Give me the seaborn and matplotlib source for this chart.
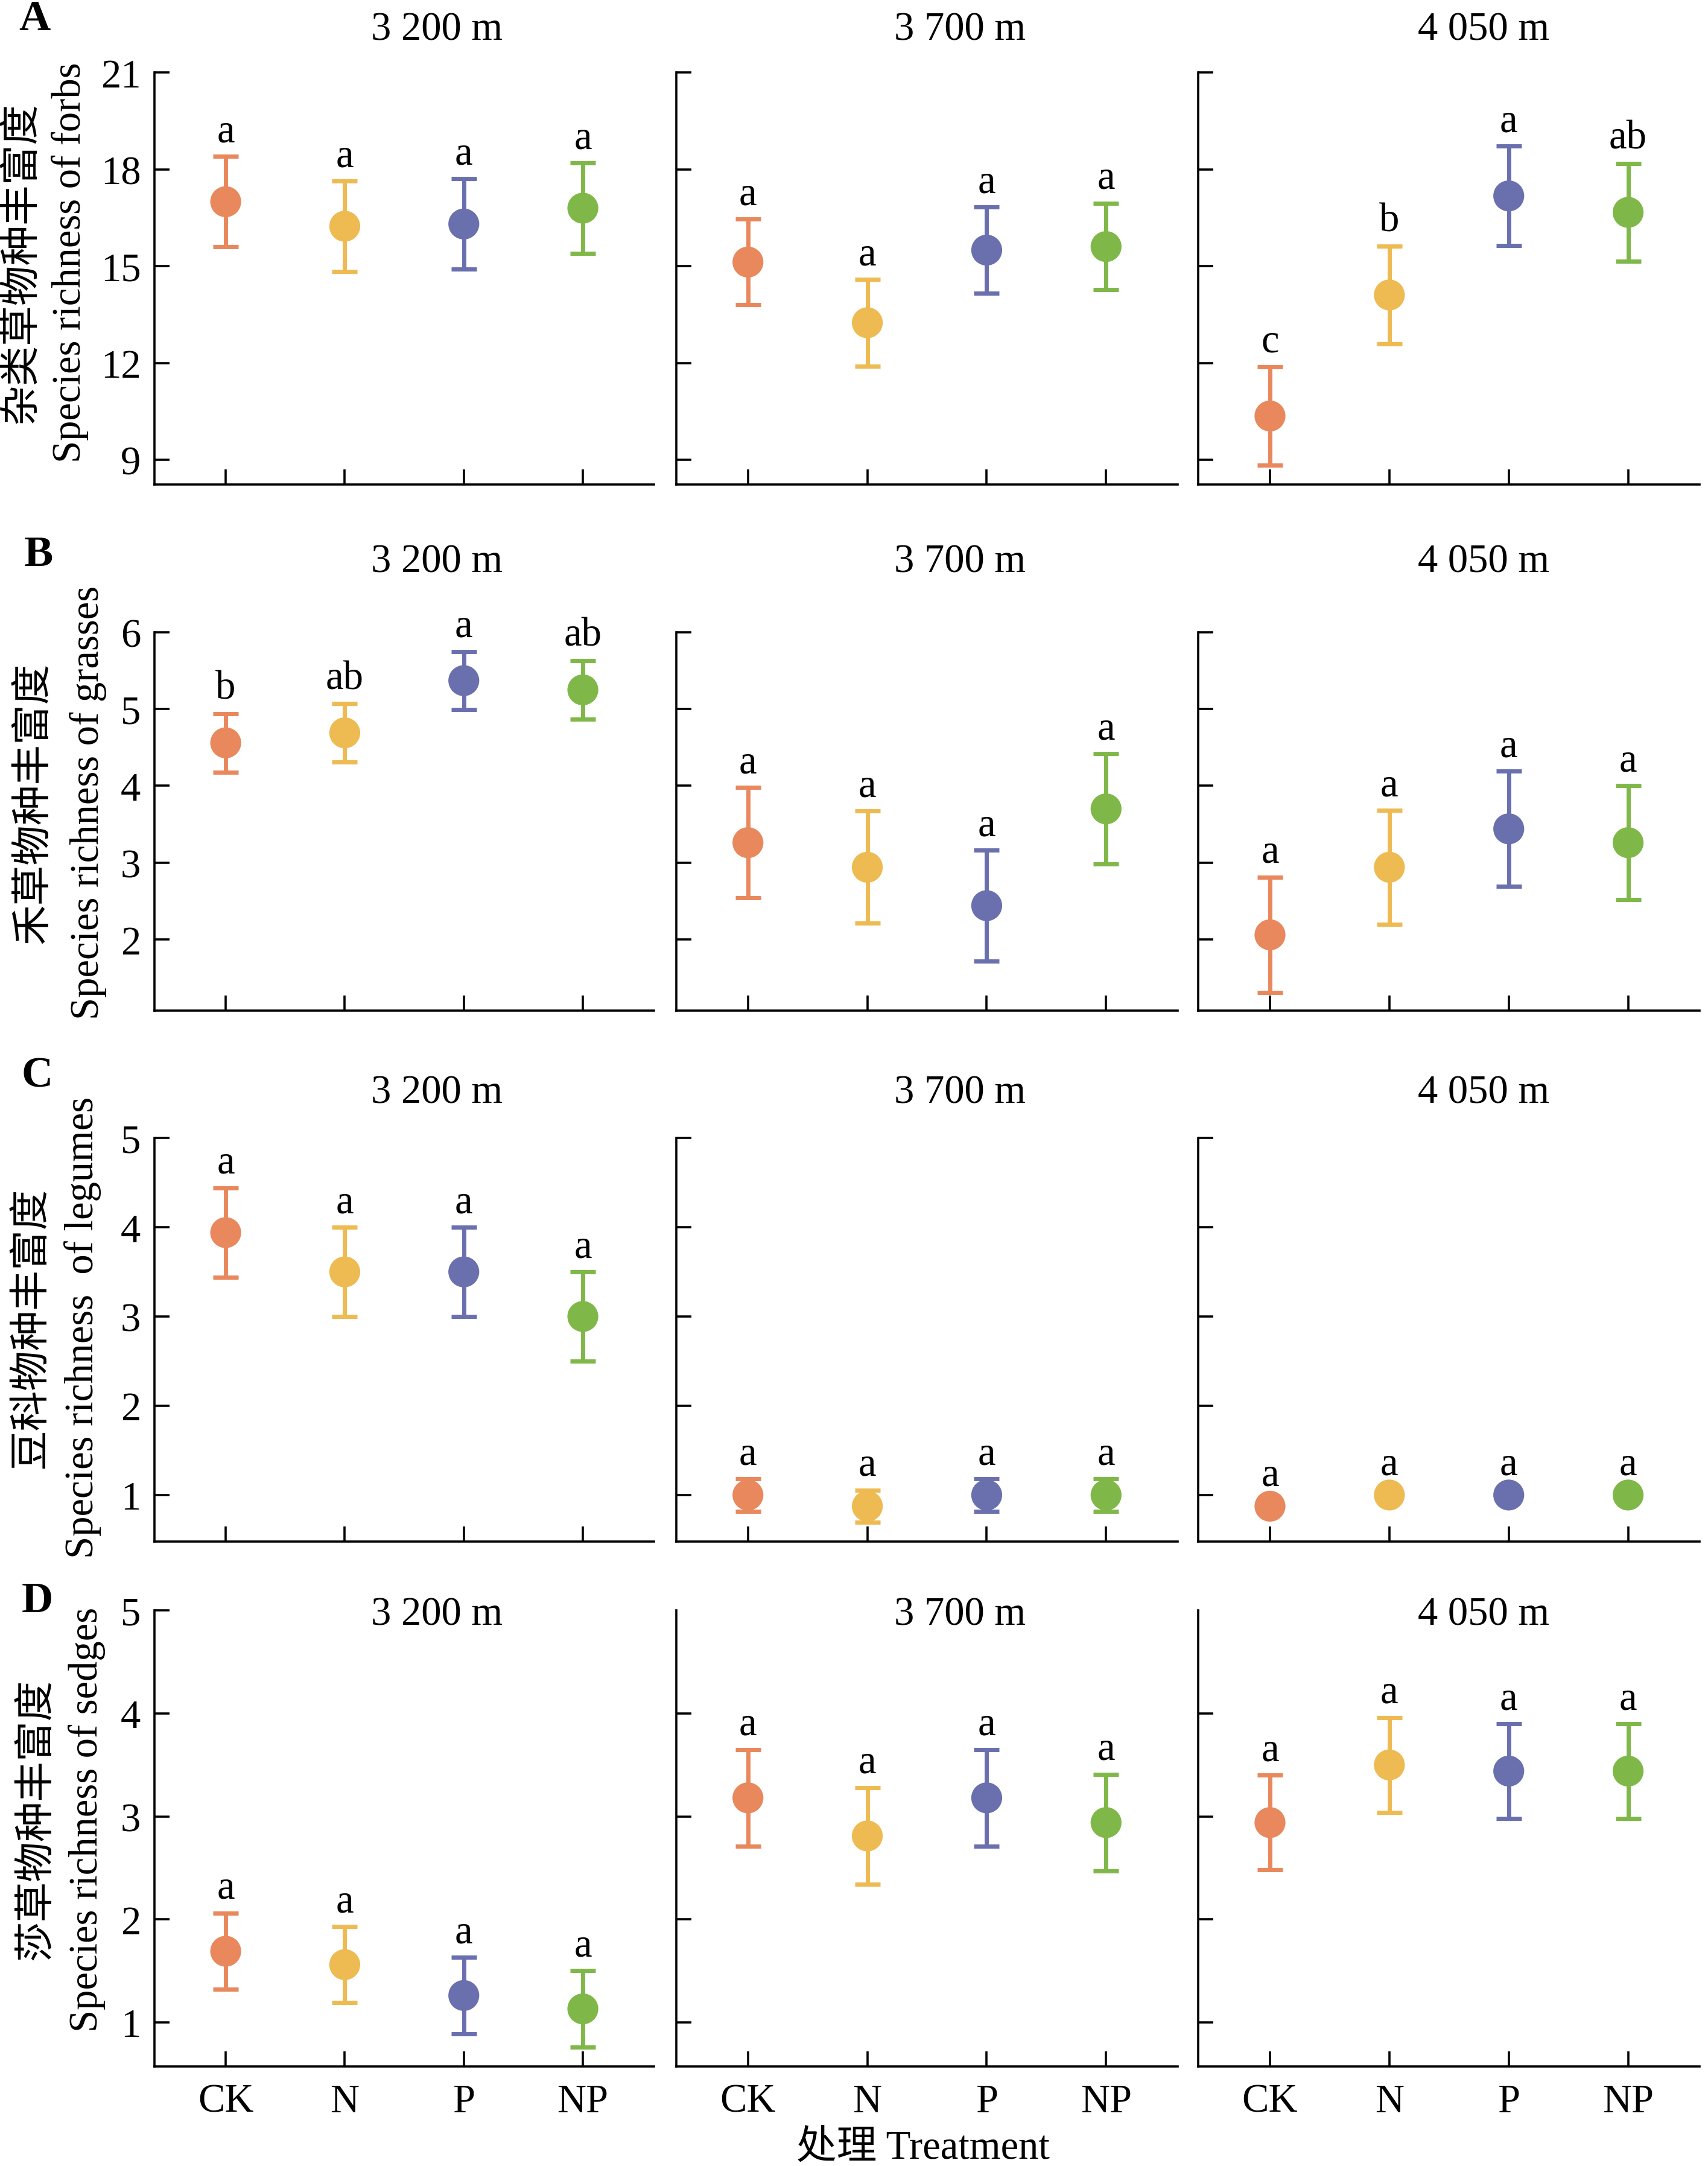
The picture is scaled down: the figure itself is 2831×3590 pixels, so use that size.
import pandas as pd
import seaborn as sns
from matplotlib import pyplot as plt

treatments = ["CK", "N", "P", "NP"]
altitudes = ["3 200 m", "3 700 m", "4 050 m"]
palette = {"CK": "#E8885C", "N": "#EEBA52", "P": "#6A70AE", "NP": "#7FB848"}

# mean / SE per altitude (rows) and treatment (columns)
forbs_mean = [[17.0, 16.24, 16.31, 16.8], [15.13, 13.25, 15.5, 15.61], [10.36, 14.11, 17.18, 16.67]]
forbs_se = [[1.4, 1.4, 1.4, 1.4], [1.33, 1.34, 1.33, 1.34], [1.53, 1.52, 1.54, 1.52]]
forbs_letters = [["a", "a", "a", "a"], ["a", "a", "a", "a"], ["c", "b", "a", "ab"]]

grasses_mean = [[4.56, 4.69, 5.37, 5.25], [3.26, 2.94, 2.44, 3.70], [2.06, 2.94, 3.44, 3.26]]
grasses_se = [[0.38, 0.38, 0.38, 0.38], [0.72, 0.73, 0.72, 0.72], [0.75, 0.74, 0.75, 0.74]]
grasses_letters = [["b", "ab", "a", "ab"], ["a", "a", "a", "a"], ["a", "a", "a", "a"]]

legumes_mean = [[3.94, 3.5, 3.5, 3.0], [1.0, 0.875, 1.0, 1.0], [0.875, 1.0, 1.0, 1.0]]
legumes_se = [[0.5, 0.5, 0.5, 0.5], [0.18, 0.18, 0.18, 0.18], [0.0, 0.0, 0.0, 0.0]]
legumes_letters = [["a", "a", "a", "a"], ["a", "a", "a", "a"], ["a", "a", "a", "a"]]

sedges_mean = [[1.69, 1.56, 1.26, 1.13], [3.18, 2.81, 3.18, 2.94], [2.94, 3.50, 3.44, 3.44]]
sedges_se = [[0.37, 0.37, 0.37, 0.37], [0.47, 0.47, 0.47, 0.47], [0.46, 0.46, 0.46, 0.46]]
sedges_letters = [["a", "a", "a", "a"], ["a", "a", "a", "a"], ["a", "a", "a", "a"]]

groups = [
    ("A", "杂类草物种丰富度", "Species richness of forbs", forbs_mean, forbs_se, forbs_letters, (8.24, 21), [9, 12, 15, 18, 21]),
    ("B", "禾草物种丰富度", "Species richness of grasses", grasses_mean, grasses_se, grasses_letters, (1.07, 6), [2, 3, 4, 5, 6]),
    ("C", "豆科物种丰富度", "Species richness  of legumes", legumes_mean, legumes_se, legumes_letters, (0.48, 5), [1, 2, 3, 4, 5]),
    ("D", "莎草物种丰富度", "Species richness of sedges", sedges_mean, sedges_se, sedges_letters, (0.57, 5), [1, 2, 3, 4, 5]),
]

records = []
for tag, _, _, means, ses, lets, _, _ in groups:
    for a_i, alt in enumerate(altitudes):
        for t_i, t in enumerate(treatments):
            records.append({"group": tag, "altitude": alt, "treatment": t, "pos": t_i,
                            "mean": means[a_i][t_i], "se": ses[a_i][t_i], "letter": lets[a_i][t_i]})
df = pd.DataFrame(records)

sns.set_theme(style="ticks", rc={"axes.edgecolor": "black", "axes.linewidth": 1.3,
                                 "xtick.color": "black", "ytick.color": "black",
                                 "text.color": "black", "axes.labelcolor": "black"})
plt.rcParams["font.family"] = ["Liberation Serif", "Noto Sans CJK SC"]

fig = plt.figure(figsize=(2831 / 200, 3591 / 200), dpi=200)

# layout measured on a 1240 x 1568 copy of the reference
W, H = 1240, 1568
col_left = [112, 491, 870]
col_right = [475, 855, 1234]
row_top = [53, 458, 824, 1166]
row_bot = [351, 732, 1116, 1496]
title_x = [317, 697, 1077]
title_y = [22, 407, 791, 1169]
tag_x = [25, 28, 27, 27]
tag_y = [14, 402, 779, 1159]
ylab_cn_x = [16, 25, 23, 27]
ylab_en_x = [51, 64, 60, 63]
ylab_y = [190, 581, 961, 1317]

FS = 24

for r, (tag, cn, en, _, _, _, ylim, yticks) in enumerate(groups):
    for c, alt in enumerate(altitudes):
        ax = fig.add_axes([col_left[c] / W, 1 - row_bot[r] / H,
                           (col_right[c] - col_left[c]) / W, (row_bot[r] - row_top[r]) / H])
        sub = df[(df["group"] == tag) & (df["altitude"] == alt)]
        for _, row in sub.iterrows():
            if row["se"] > 0:
                ax.errorbar(row["pos"], row["mean"], yerr=row["se"], fmt="none",
                            ecolor=palette[row["treatment"]], elinewidth=2.5,
                            capsize=7.4, capthick=2.5, zorder=2)
            gap = 9 if row["se"] > 0 else 12.5
            ax.annotate(row["letter"], xy=(row["pos"], row["mean"] + row["se"]),
                        xytext=(0, gap), textcoords="offset points",
                        ha="center", va="baseline", fontsize=FS)
        sns.scatterplot(data=sub, x="pos", y="mean", hue="treatment", palette=palette,
                        s=340, edgecolor="none", linewidth=0, legend=False, ax=ax, zorder=3)
        sns.despine(ax=ax)
        ax.set_xlim(-0.6, 3.6)
        ax.set_ylim(*ylim)
        if tag == "D" and c > 0:
            ax.set_yticks(yticks[:-1])
        else:
            ax.set_yticks(yticks)
        ax.set_xticks(range(len(treatments)))
        ax.set_xticklabels(treatments)
        ax.set_xlabel("")
        ax.set_ylabel("")
        ax.tick_params(direction="in", length=9, width=1.3, labelsize=FS, pad=8)
        ax.tick_params(axis="x", pad=10)
        if c > 0:
            ax.tick_params(labelleft=False)
        if r < len(groups) - 1:
            ax.tick_params(labelbottom=False)
        fig.text(title_x[c] / W, 1 - title_y[r] / H, alt, ha="center", va="center", fontsize=FS)

    fig.text(tag_x[r] / W, 1 - tag_y[r] / H, tag, ha="center", va="center",
             fontsize=26, fontweight="bold")
    fig.text(ylab_cn_x[r] / W, 1 - ylab_y[r] / H, cn, rotation=90, ha="center", va="center", fontsize=FS)
    fig.text(ylab_en_x[r] / W, 1 - ylab_y[r] / H, en, rotation=90, ha="center", va="center", fontsize=FS)

fig.text(670 / W, 1 - 1555 / H, "处理 Treatment", ha="center", va="center", fontsize=FS)

fig.savefig("out.png", dpi=200)
